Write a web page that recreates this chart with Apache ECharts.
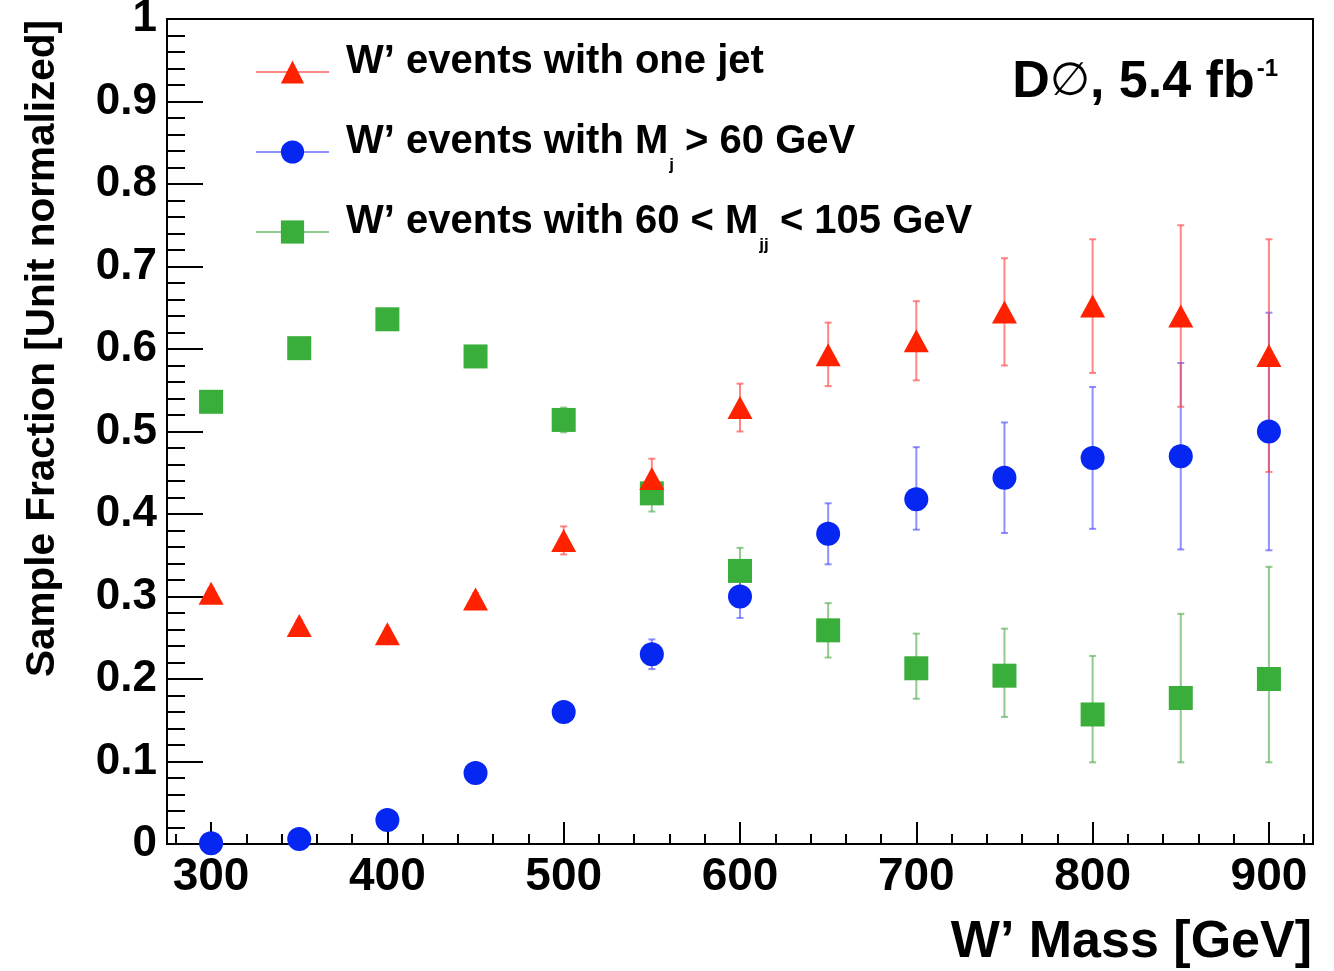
<!DOCTYPE html>
<html><head><meta charset="utf-8">
<script src="https://cdn.jsdelivr.net/npm/echarts@6/dist/echarts.min.js"></script>
<style>html,body{margin:0;padding:0;background:#fff}#c{width:1334px;height:971px}</style>
</head><body><div id="c"></div>
<script>
// ---- data ----
const masses = [300, 350, 400, 450, 500, 550, 600, 650, 700, 750, 800, 850, 900];

const oneJet      = [0.304, 0.265, 0.255, 0.297, 0.368, 0.443, 0.529, 0.593, 0.610, 0.645, 0.652, 0.640, 0.592];
const oneJetErrHi = [0.006, 0.006, 0.006, 0.007, 0.017, 0.024, 0.029, 0.039, 0.048, 0.065, 0.081, 0.110, 0.141];
const oneJetErrLo = [0.006, 0.006, 0.006, 0.007, 0.017, 0.024, 0.029, 0.038, 0.048, 0.065, 0.081, 0.110, 0.141];

const mjCut      = [0.001, 0.006, 0.029, 0.086, 0.160, 0.230, 0.300, 0.376, 0.418, 0.444, 0.468, 0.470, 0.500];
const mjCutErrHi = [0.002, 0.004, 0.006, 0.008, 0.011, 0.018, 0.026, 0.037, 0.063, 0.067, 0.086, 0.113, 0.144];
const mjCutErrLo = [0.001, 0.004, 0.006, 0.008, 0.011, 0.018, 0.026, 0.037, 0.037, 0.067, 0.086, 0.113, 0.144];

const mjjWindow      = [0.536, 0.601, 0.636, 0.591, 0.514, 0.425, 0.331, 0.259, 0.213, 0.204, 0.157, 0.177, 0.200];
const mjjWindowErrHi = [0.006, 0.007, 0.008, 0.009, 0.015, 0.022, 0.028, 0.033, 0.042, 0.057, 0.071, 0.102, 0.136];
const mjjWindowErrLo = [0.006, 0.007, 0.008, 0.009, 0.015, 0.022, 0.028, 0.033, 0.037, 0.050, 0.058, 0.078, 0.101];

const xTicks      = [300, 400, 500, 600, 700, 800, 900];
const xMinorTicks = [280, 320, 340, 360, 380, 420, 440, 460, 480, 520, 540, 560, 580, 620, 640, 660, 680,
                     720, 740, 760, 780, 820, 840, 860, 880, 920];
const yTicks      = [0, 0.1, 0.2, 0.3, 0.4, 0.5, 0.6, 0.7, 0.8, 0.9, 1];

const seriesNames = ['W\u2019 events with one jet', 'W\u2019 events with Mj > 60 GeV', 'W\u2019 events with 60 < Mjj < 105 GeV'];
const legendLabels = {
  [seriesNames[0]]: '{t|W\u2019 events with one jet}{sub| }',
  [seriesNames[1]]: '{t|W\u2019 events with M}{sub|j}{t| > 60 GeV}',
  [seriesNames[2]]: '{t|W\u2019 events with 60 < M}{sub|jj}{t| < 105 GeV}'
};

// ---- styling ----
const FONT = "'Liberation Sans', Arial, Helvetica, sans-serif";
const RED = '#ff2200', RED_E = 'rgba(255,70,70,0.65)';
const BLUE = '#0626f2', BLUE_E = 'rgba(70,70,255,0.6)';
const GREEN = '#3aae3a', GREEN_E = 'rgba(70,170,70,0.6)';

function errData(vals, lo, hi) {
  return masses.map((m, i) => [m, vals[i] - lo[i], vals[i] + hi[i]]);
}
function errSeries(id, data, color) {
  return {
    type: 'custom', name: id, coordinateSystem: 'cartesian2d', xAxisIndex: 0, yAxisIndex: 0,
    data: data, silent: true, clip: false,
    encode: { x: 0, y: [1, 2] },
    renderItem: function (params, api) {
      const x = api.value(0);
      const top = api.coord([x, api.value(2)]);
      const bot = api.coord([x, api.value(1)]);
      const cw = 3.5;
      const st = { stroke: color, lineWidth: 2 };
      return {
        type: 'group', children: [
          { type: 'line', shape: { x1: top[0], y1: top[1], x2: bot[0], y2: bot[1] }, style: st },
          { type: 'line', shape: { x1: top[0] - cw, y1: top[1], x2: top[0] + cw, y2: top[1] }, style: st },
          { type: 'line', shape: { x1: bot[0] - cw, y1: bot[1], x2: bot[0] + cw, y2: bot[1] }, style: st }
        ]
      };
    }
  };
}
function markerSeries(name, vals, symbol, size, color, lineColor) {
  return {
    type: 'line', name: name, xAxisIndex: 0, yAxisIndex: 0,
    data: masses.map((m, i) => [m, vals[i]]),
    symbol: symbol, symbolSize: size, showSymbol: true, showAllSymbol: true, clip: false,
    itemStyle: { color: color, opacity: 1 },
    lineStyle: { color: lineColor, width: 2, opacity: 0 },
    emphasis: { disabled: true }, silent: true
  };
}

const chart = echarts.init(document.getElementById('c'), null, { renderer: 'canvas' });
chart.setOption({
  animation: false,
  backgroundColor: '#fff',
  grid: { left: 167, right: 21, top: 19, bottom: 127, show: true, borderColor: '#000', borderWidth: 2,
          backgroundColor: 'transparent', outerBoundsMode: 'none', containLabel: false },
  xAxis: [
    {
      type: 'value', min: 275, max: 925, position: 'bottom',
      axisLine: { show: true, onZero: false, lineStyle: { color: '#000', width: 2 } },
      axisTick: { show: true, inside: true, length: 22, customValues: xTicks, lineStyle: { color: '#000', width: 2 } },
      axisLabel: { show: true, customValues: xTicks, margin: 10, color: '#000',
                   fontFamily: FONT, fontSize: 46, fontWeight: 'bold' },
      splitLine: { show: false }
    },
    {
      type: 'value', min: 275, max: 925, position: 'bottom', gridIndex: 0,
      axisLine: { show: false },
      axisTick: { show: true, inside: true, length: 10, customValues: xMinorTicks, lineStyle: { color: '#000', width: 2 } },
      axisLabel: { show: false },
      splitLine: { show: false }
    }
  ],
  yAxis: {
    type: 'value', min: 0, max: 1, interval: 0.1,
    axisLine: { show: true, onZero: false, lineStyle: { color: '#000', width: 2 } },
    axisTick: { show: true, inside: true, length: 36, lineStyle: { color: '#000', width: 2 } },
    minorTick: { show: true, splitNumber: 5, length: 18, lineStyle: { color: '#000', width: 2 } },
    axisLabel: { margin: 10, color: '#000', fontFamily: FONT, fontSize: 44, fontWeight: 'bold',
                 padding: [10, 0, 0, 0],
                 formatter: function (v) { const t = yTicks.find(y => Math.abs(y - v) < 1e-9); return String(t !== undefined ? t : v); } },
    splitLine: { show: false }, minorSplitLine: { show: false }
  },
  legend: {
    orient: 'vertical', left: 255, top: 42, padding: 0,
    itemWidth: 73, itemHeight: 29, itemGap: 28,
    selectedMode: false,
    data: seriesNames,
    lineStyle: { width: 2, opacity: 1 },
    formatter: function (name) { return legendLabels[name]; },
    textStyle: {
      padding: [0, 0, 0, 12],
      rich: {
        t: { fontFamily: FONT, fontSize: 40, fontWeight: 'bold', color: '#000', height: 40,
             padding: [0, 0, 20, 0], verticalAlign: 'top' },
        sub: { fontFamily: FONT, fontSize: 17, fontWeight: 'bold', color: '#000', height: 17,
               verticalAlign: 'top', padding: [35, 0, 8, 1] }
      }
    }
  },
  graphic: [
    { type: 'text', x: 1312, y: 943, silent: true,
      style: { text: 'W\u2019 Mass [GeV]', fill: '#000', font: 'bold 52px ' + FONT, align: 'right', verticalAlign: 'middle' } },
    { type: 'text', x: 43, y: 20, rotation: Math.PI / 2, silent: true,
      style: { text: 'Sample Fraction [Unit normalized]', fill: '#000', font: 'bold 40.5px ' + FONT,
               align: 'right', verticalAlign: 'middle' } },
    { type: 'text', x: 1278, y: 57, silent: true,
      style: {
        text: '{a|D}{o|\u2205}{a|, 5.4 fb}{s|-1}', align: 'right', verticalAlign: 'top',
        rich: {
          a: { fontFamily: FONT, fontSize: 52, fontWeight: 'bold', color: '#000', lineHeight: 56, verticalAlign: 'top' },
          o: { fontFamily: "'DejaVu Sans', sans-serif", fontSize: 46, fontWeight: 'normal', color: '#000', lineHeight: 56, verticalAlign: 'top', padding: [3, 0, 0, 0] },
          s: { fontFamily: FONT, fontSize: 24, fontWeight: 'bold', color: '#000', lineHeight: 56, verticalAlign: 'top', padding: [0, 0, 0, 2] }
        }
      } }
  ],
  series: [
    errSeries('err-mjj', errData(mjjWindow, mjjWindowErrLo, mjjWindowErrHi), GREEN_E),
    markerSeries(seriesNames[2], mjjWindow, 'rect', 24, GREEN, GREEN_E),
    errSeries('err-mj', errData(mjCut, mjCutErrLo, mjCutErrHi), BLUE_E),
    markerSeries(seriesNames[1], mjCut, 'circle', 24, BLUE, BLUE_E),
    errSeries('err-onejet', errData(oneJet, oneJetErrLo, oneJetErrHi), RED_E),
    markerSeries(seriesNames[0], oneJet, 'triangle', [25, 23], RED, RED_E)
  ]
});
</script></body></html>
